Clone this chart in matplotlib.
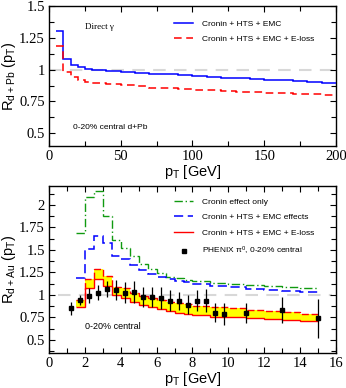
import numpy as np
import matplotlib
matplotlib.use('Agg')
import matplotlib.pyplot as plt
from matplotlib.ticker import MultipleLocator

# ---- top panel: direct photons, d+Pb ----
top_edges = [5, 10, 15, 20, 25, 30, 40, 50, 60, 70, 80, 90, 100, 110, 120,
             130, 140, 150, 160, 170, 180, 190, 200]
top_emc = [1.30, 1.085, 1.04, 1.02, 1.005, 0.995, 0.99, 0.982, 0.975, 0.968,
           0.962, 0.955, 0.948, 0.943, 0.937, 0.932, 0.927, 0.922, 0.917,
           0.912, 0.905, 0.897]
top_eloss = [1.185, 0.985, 0.94, 0.918, 0.905, 0.897, 0.89, 0.882, 0.875,
             0.857, 0.853, 0.848, 0.843, 0.838, 0.832, 0.828, 0.823, 0.82,
             0.815, 0.81, 0.805, 0.80]

# ---- bottom panel: pi0, d+Au ----
bot_edges = [1.5, 2, 2.5, 3, 3.5, 4, 4.5, 5, 5.5, 6, 6.5, 7, 7.5, 8,
             9, 10, 11, 12, 13, 14, 15]
cronin = [1.685, 2.09, 2.15, 1.88, 1.61, 1.525, 1.43, 1.34, 1.285, 1.24,
          1.20, 1.185, 1.17, 1.15, 1.135, 1.125, 1.11, 1.10, 1.09, 1.08]
cronin_emc = [1.185, 1.51, 1.655, 1.58, 1.43, 1.40, 1.33, 1.28, 1.23, 1.20,
              1.175, 1.155, 1.14, 1.12, 1.10, 1.085, 1.07, 1.055, 1.045, 1.03]
eloss_hi = [0.944, 1.175, 1.285, 1.21, 1.085, 1.074, 1.026, 0.99, 0.963,
            0.944, 0.926, 0.907, 0.896, 0.88, 0.865, 0.85, 0.838, 0.825,
            0.81, 0.79]
eloss_lo = [0.863, 1.074, 1.175, 1.10, 1.0, 0.963, 0.926, 0.889, 0.863,
            0.84, 0.822, 0.804, 0.785, 0.775, 0.76, 0.75, 0.74, 0.73,
            0.72, 0.71]

phenix_pt = [1.25, 1.75, 2.25, 2.75, 3.25, 3.75, 4.25, 4.75, 5.25, 5.75,
             6.25, 6.75, 7.25, 7.75, 8.25, 8.75, 9.25, 9.75, 11, 13, 15]
phenix_r = [0.852, 0.944, 0.993, 1.026, 1.063, 1.056, 1.026, 1.03, 0.98,
            0.974, 0.963, 0.937, 0.933, 0.889, 0.937, 0.937, 0.80, 0.789,
            0.80, 0.833, 0.74]
phenix_err = [0.074, 0.06, 0.083, 0.083, 0.087, 0.11, 0.12, 0.12, 0.11,
              0.11, 0.12, 0.12, 0.105, 0.105, 0.12, 0.13, 0.105, 0.125,
              0.107, 0.148, 0.22]

sans = 'Liberation Sans'
serif = 'Liberation Serif'
plt.rcParams['font.family'] = serif
plt.rcParams['mathtext.default'] = 'regular'


def style_axes(ax, xmaj, xmin, ylim):
    ax.set_ylim(*ylim)
    ax.xaxis.set_major_locator(MultipleLocator(xmaj))
    ax.xaxis.set_minor_locator(MultipleLocator(xmin))
    ax.yaxis.set_major_locator(MultipleLocator(0.25))
    ax.yaxis.set_minor_locator(MultipleLocator(0.125))
    ax.tick_params(which='both', direction='in', top=True, right=True,
                   width=0.8, labelsize=10.5, pad=3)
    ax.tick_params(which='major', length=4.5)
    ax.tick_params(which='minor', length=3.5)
    for sp in ax.spines.values():
        sp.set_linewidth(1.0)


fig = plt.figure(figsize=(3.46, 3.88), dpi=100)
ax1 = fig.add_axes([0.1416, 0.6237, 0.8295, 0.3608])
ax2 = fig.add_axes([0.1416, 0.0902, 0.8295, 0.4304])

# top
ax1.axhline(1.0, color='#d8d8d8', lw=1.5, ls=(0, (6, 4)), zorder=1)
ax1.stairs(top_emc, top_edges, baseline=None, color='#0000ff', lw=1.1,
           label='Cronin + HTS + EMC', zorder=3)
ax1.stairs(top_eloss, top_edges, baseline=None, color='#ff0000', lw=1.1, ls=(0, (5, 3)),
           label='Cronin + HTS + EMC + E-loss', zorder=3)
ax1.set_xlim(0, 200)
style_axes(ax1, 50, 25, (0.4, 1.5))
ax1.set_yticks([0.5, 0.75, 1, 1.25, 1.5])
ax1.set_yticklabels(['0.5', '0.75', '1', '1.25', '1.5'])
ax1.set_xlabel('p$_T$ [GeV]', fontfamily=sans, fontsize=10.5, labelpad=0)
ax1.set_ylabel('R$_{d+Pb}$ (p$_T$)', fontfamily=sans, fontsize=10.5, labelpad=1)
ax1.text(0.125, 0.85, 'Direct γ', transform=ax1.transAxes, fontfamily=serif,
         fontsize=6.5, va='center')
ax1.text(0.084, 0.129, '0-20% central d+Pb', transform=ax1.transAxes, fontfamily=sans,
         fontsize=6, va='center')
ax1.legend(loc='upper left', bbox_to_anchor=(0.41, 0.955), frameon=False,
           prop={'family': sans, 'size': 6}, handlelength=2.3, handletextpad=1.0,
           labelspacing=0.85)

# bottom
ax2.axhline(1.0, xmin=0.03, xmax=0.985, color='#d8d8d8', lw=1.5, ls=(0, (6, 4)), zorder=1)
ax2.stairs(eloss_hi, bot_edges, baseline=eloss_lo, fill=True, color='#ffff00', lw=0, zorder=2)
ax2.stairs(cronin, bot_edges, baseline=None, color='#109a10', lw=1.0, ls=(0, (6, 2, 1, 2)),
           label='Cronin effect only', zorder=3)
ax2.stairs(cronin_emc, bot_edges, baseline=None, color='#0000ff', lw=1.1, ls=(0, (6, 3)),
           label='Cronin + HTS + EMC effects', zorder=3)
ax2.stairs(eloss_lo, bot_edges, baseline=None, color='#ff0000', lw=1.0,
           label='Cronin + HTS + EMC + E-loss', zorder=3)
ax2.stairs(eloss_hi, bot_edges, baseline=None, color='#ff0000', lw=1.0, ls=(0, (5, 2)), zorder=3)
ax2.errorbar(phenix_pt, phenix_r, yerr=phenix_err, fmt='none', ecolor='black',
             elinewidth=0.9, capsize=0, zorder=4)
ax2.plot(phenix_pt, phenix_r, 's', color='black', ms=3.5, ls='none',
         label='PHENIX π$^0$, 0-20% central', zorder=5)
ax2.set_xlim(0, 16)
style_axes(ax2, 2, 1, (0.355, 2.21))
ax2.set_yticks([0.5, 0.75, 1, 1.25, 1.5, 1.75, 2])
ax2.set_yticklabels(['0.5', '0.75', '1', '1.25', '1.5', '1.75', '2'])
ax2.set_xlabel('p$_T$ [GeV]', fontfamily=sans, fontsize=10.5, labelpad=0)
ax2.set_ylabel('R$_{d+Au}$ (p$_T$)', fontfamily=sans, fontsize=10.5, labelpad=1)
ax2.text(0.125, 0.156, '0-20% central', transform=ax2.transAxes, fontfamily=sans,
         fontsize=6.5, va='center')
ax2.legend(loc='upper left', bbox_to_anchor=(0.41, 0.975), frameon=False,
           prop={'family': sans, 'size': 6}, handlelength=2.3, handletextpad=1.0,
           labelspacing=0.95)

fig.savefig('out.png', dpi=100)
